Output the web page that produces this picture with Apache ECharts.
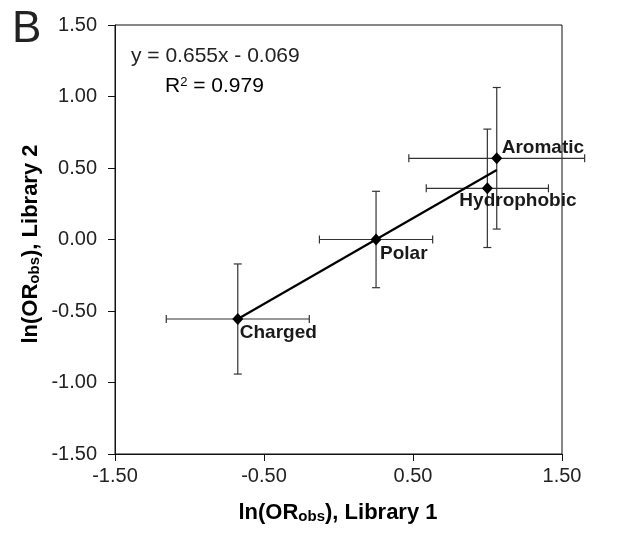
<!DOCTYPE html>
<html>
<head>
<meta charset="utf-8">
<script src="https://cdn.jsdelivr.net/npm/echarts@6/dist/echarts.min.js"></script>
<style>
html,body{margin:0;padding:0;background:#fff;}
#chart{width:626px;height:535px;}
</style>
</head>
<body>
<div id="chart"></div>
<script>
// ---- data ----
const categories = ['Charged', 'Polar', 'Hydrophobic', 'Aromatic'];
const lib1 = [-0.676, 0.252, 0.999, 1.062];
const lib2 = [-0.556, 0.000, 0.358, 0.568];
const lib1Err = [0.48, 0.38, 0.41, 0.59];
const lib2Err = [0.385, 0.337, 0.414, 0.495];
const trendX = [-0.676, 1.062];
const trendY = [-0.556, 0.486];
const equationText = 'y = 0.655x - 0.069';
const r2Value = '0.979';
const panelLetter = 'B';

// ---- styling / layout (not data) ----
const FONT = '"Liberation Sans", Arial, sans-serif';
const labelLayout = {
  'Charged': [2, 14],
  'Polar': [4, 14],
  'Hydrophobic': [-28, 12],
  'Aromatic': [5, -11]
};

const chart = echarts.init(document.getElementById('chart'), null, {renderer: 'canvas'});

const errData = categories.map((c, i) => [lib1[i], lib2[i], lib1Err[i], lib2Err[i]]);
const pointData = categories.map((c, i) => ({
  name: c,
  value: [lib1[i], lib2[i]],
  label: {offset: labelLayout[c]}
}));
const trendData = trendX.map((x, i) => [x, trendY[i]]);

const CAP = 4;
function renderErr(params, api) {
  const x = api.value(0), y = api.value(1), ex = api.value(2), ey = api.value(3);
  const l = api.coord([x - ex, y]);
  const r = api.coord([x + ex, y]);
  const t = api.coord([x, y + ey]);
  const b = api.coord([x, y - ey]);
  const st = {stroke: '#333', lineWidth: 1.2, fill: null};
  const line = (x1, y1, x2, y2) => ({type: 'line', shape: {x1, y1, x2, y2}, style: st});
  return {
    type: 'group',
    children: [
      line(l[0], l[1], r[0], r[1]),
      line(l[0], l[1] - CAP, l[0], l[1] + CAP),
      line(r[0], r[1] - CAP, r[0], r[1] + CAP),
      line(t[0], t[1], b[0], b[1]),
      line(t[0] - CAP, t[1], t[0] + CAP, t[1]),
      line(b[0] - CAP, b[1], b[0] + CAP, b[1])
    ]
  };
}

const titleRich = {
  a: {fontFamily: FONT, fontSize: 22, fontWeight: 'bold', color: '#1a1a1a'},
  s: {fontFamily: FONT, fontSize: 15, fontWeight: 'bold', color: '#1a1a1a', verticalAlign: 'bottom', padding: [6, 0, 0, 0]}
};

const option = {
  animation: false,
  backgroundColor: '#fff',
  grid: {left: 115, right: 64, top: 25, bottom: 81, show: true, borderColor: '#111', borderWidth: 1, backgroundColor: 'transparent'},
  xAxis: {
    type: 'value', min: -1.5, max: 1.5, interval: 1,
    axisLine: {show: true, onZero: false, lineStyle: {color: '#111', width: 1}},
    axisTick: {show: true, inside: false, length: 7, lineStyle: {color: '#111', width: 1}},
    splitLine: {show: false},
    axisLabel: {fontFamily: FONT, fontSize: 20, color: '#222', margin: 12, formatter: v => v.toFixed(2)}
  },
  yAxis: {
    type: 'value', min: -1.5, max: 1.5, interval: 0.5,
    axisLine: {show: true, onZero: false, lineStyle: {color: '#111', width: 1}},
    axisTick: {show: true, inside: false, length: 7, lineStyle: {color: '#111', width: 1}},
    splitLine: {show: false},
    axisLabel: {fontFamily: FONT, fontSize: 20, color: '#222', margin: 18, formatter: v => v.toFixed(2)}
  },
  series: [
    {
      type: 'custom', name: 'err', renderItem: renderErr, data: errData,
      encode: {x: 0, y: 1}, clip: false, z: 2, silent: true
    },
    {
      type: 'line', name: 'trend', data: trendData, showSymbol: false, symbol: 'none',
      lineStyle: {color: '#000', width: 2.2}, z: 3, silent: true
    },
    {
      type: 'scatter', name: 'points', data: pointData, symbol: 'diamond', symbolSize: [11, 12],
      itemStyle: {color: '#000', opacity: 1}, z: 4,
      label: {
        show: true, position: [5.5, 6], align: 'left', verticalAlign: 'middle',
        formatter: p => p.name, textBorderWidth: 0, opacity: 1,
        fontFamily: FONT, fontSize: 19, fontWeight: 'bold', color: '#1a1a1a'
      }
    }
  ],
  graphic: [
    {type: 'text', left: 12, top: 8, style: {text: panelLetter, font: '44px ' + FONT, fill: '#222'}},
    {type: 'text', x: 131, y: 56, style: {text: equationText, font: '21px ' + FONT, fill: '#222', textVerticalAlign: 'middle'}},
    {type: 'text', x: 165, y: 86, style: {
      text: '{a|R}{s|2}{a| = ' + r2Value + '}', textVerticalAlign: 'middle',
      rich: {a: {fontFamily: FONT, fontSize: 21, color: '#222'}, s: {fontFamily: FONT, fontSize: 13, color: '#222', verticalAlign: 'top', padding: [0, 0, 8, 0]}}
    }},
    {type: 'text', x: 338, y: 513, style: {
      text: '{a|ln(OR}{s|obs}{a|), Library 1}', align: 'center', verticalAlign: 'middle', rich: titleRich
    }},
    {type: 'text', x: 31, y: 244, rotation: Math.PI / 2, style: {
      text: '{a|ln(OR}{s|obs}{a|), Library 2}', align: 'center', verticalAlign: 'middle', rich: titleRich
    }}
  ]
};
chart.setOption(option);
</script>
</body>
</html>
